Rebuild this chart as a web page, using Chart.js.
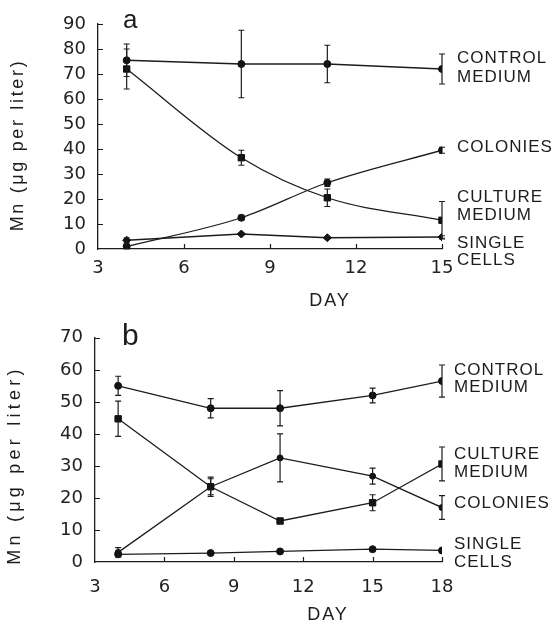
<!DOCTYPE html>
<html>
<head>
<meta charset="utf-8">
<script src="https://cdn.jsdelivr.net/npm/chart.js@4.4.1/dist/chart.umd.min.js"></script>
<style>
  html, body { margin: 0; padding: 0; background: #fff; }
  body { width: 553px; height: 625px; position: relative; overflow: hidden; }
  canvas { position: absolute; left: 0; }
  #panelA { top: 0; }
  #panelB { top: 315px; }
</style>
</head>
<body>
<canvas id="panelA" width="553" height="315"></canvas>
<canvas id="panelB" width="553" height="310"></canvas>
<script>
// Panel a: Mn (ug per liter) by day
const daysA = [4, 8, 11, 15];
const controlA = [75.5, 74, 74, 72];
const controlErrA = [6.5, 13.5, 7.5, 6];
const cultureA = [72, 36.5, 20.5, 11.5];
const cultureErrA = [8, 3, 3.5, 7.5];
const coloniesA = [1, 12.5, 26.5, 39.5];
const coloniesErrA = [1, 1, 1.5, 1.2];
const singleA = [3.5, 6, 4.5, 4.8];
const singleErrA = [1, 0.5, 0.5, 0.5];
const xTicksA = [3, 6, 9, 12, 15];
const yTicksA = [0, 10, 20, 30, 40, 50, 60, 70, 80, 90];

// Panel b
const daysB = [4, 8, 11, 15, 18];
const controlB = [55, 48, 48, 52, 56.5];
const controlErrB = [3, 3, 5.5, 2.3, 5];
const cultureB = [44.7, 23.5, 12.8, 18.5, 30.6];
const cultureErrB = [5.5, 3, 0.8, 2.5, 5.3];
const coloniesB = [3, 23.5, 32.5, 26.8, 17];
const coloniesErrB = [1.5, 2.5, 7.5, 2.5, 3.7];
const singleB = [2.4, 2.8, 3.3, 4, 3.6];
const singleErrB = [0, 0, 0, 0, 0];
const xTicksB = [3, 6, 9, 12, 15, 18];
const yTicksB = [0, 10, 20, 30, 40, 50, 60, 70];

const INK = '#1c1c1c';

function pts(days, vals) {
    return days.map((d, i) => ({ x: d, y: vals[i] }));
}

// error bars, inward ticks and the text around each panel
const panelPlugin = {
    id: 'panel',
    afterDatasetsDraw(chart, args, o) {
        const ctx = chart.ctx;
        const x = chart.scales.x, y = chart.scales.y;
        const a = chart.chartArea;
        ctx.save();
        ctx.strokeStyle = INK;
        ctx.lineWidth = 1.2;
        chart.data.datasets.forEach((ds, i) => {
            const errs = o.errors[i];
            ds.data.forEach((p, j) => {
                const e = errs[j];
                if (!e) return;
                const px = x.getPixelForValue(p.x);
                const t = y.getPixelForValue(p.y + e), b = y.getPixelForValue(p.y - e);
                ctx.beginPath();
                ctx.moveTo(px, t); ctx.lineTo(px, b);
                ctx.moveTo(px - 3, t); ctx.lineTo(px + 3, t);
                ctx.moveTo(px - 3, b); ctx.lineTo(px + 3, b);
                ctx.stroke();
            });
        });

        ctx.beginPath();
        y.ticks.forEach(t => {
            if (t.value === y.min) return;
            const py = Math.round(y.getPixelForValue(t.value)) + 0.5;
            ctx.moveTo(a.left, py); ctx.lineTo(a.left + 5, py);
        });
        x.ticks.forEach(t => {
            if (t.value === x.min) return;
            const px = Math.round(x.getPixelForValue(t.value)) + 0.5;
            ctx.moveTo(px, a.bottom); ctx.lineTo(px, a.bottom - 5);
        });
        ctx.stroke();

        ctx.fillStyle = INK;
        ctx.textBaseline = 'middle';
        ctx.textAlign = 'left';
        ctx.font = '17px "Liberation Sans"';
        ctx.letterSpacing = '1px';
        o.labels.forEach(l => ctx.fillText(l.text, l.x, l.y));

        ctx.font = '18px "Liberation Sans"';
        ctx.letterSpacing = '2px';
        ctx.textAlign = 'center';
        ctx.fillText('DAY', o.day.x, o.day.y);

        ctx.letterSpacing = '0px';
        ctx.textAlign = 'left';
        ctx.textBaseline = 'alphabetic';
        ctx.font = o.letter.size + 'px "Liberation Sans"';
        ctx.fillText(o.letter.text, o.letter.x, o.letter.y);

        // rotated y title stretched to the width seen in the figure
        const title = 'Mn (\u03bcg per liter)';
        ctx.font = '18px "Liberation Sans"';
        const w = ctx.measureText(title).width;
        ctx.letterSpacing = ((o.yTitle.w - w) / (title.length - 1)).toFixed(2) + 'px';
        ctx.translate(o.yTitle.x, o.yTitle.y);
        ctx.rotate(-Math.PI / 2);
        ctx.textAlign = 'center';
        ctx.textBaseline = 'middle';
        ctx.fillText(title, 0, 0);
        ctx.restore();
    }
};

function series(label, data, style, radius, smooth) {
    return {
        label: label,
        data: data,
        borderColor: INK,
        borderWidth: 1.3,
        pointStyle: style,
        pointRadius: radius,
        pointBackgroundColor: '#111',
        pointBorderColor: '#111',
        pointBorderWidth: 1,
        cubicInterpolationMode: smooth ? 'monotone' : 'default',
        tension: 0,
        fill: false
    };
}

function makePanel(id, p) {
    const ctx = document.getElementById(id).getContext('2d');
    return new Chart(ctx, {
        type: 'line',
        data: { datasets: p.datasets },
        options: {
            responsive: false,
            animation: false,
            devicePixelRatio: 1,
            layout: { padding: { top: p.top, right: p.right, left: 0, bottom: 0 } },
            plugins: {
                legend: { display: false },
                tooltip: { enabled: false },
                panel: p.panel
            },
            scales: {
                x: {
                    type: 'linear',
                    min: p.xTicks[0],
                    max: p.xTicks[p.xTicks.length - 1],
                    afterBuildTicks: s => { s.ticks = p.xTicks.map(v => ({ value: v })); },
                    afterFit: s => { s.height = p.bottom; },
                    grid: { display: false, drawTicks: false },
                    border: { color: INK, width: 1.3 },
                    ticks: {
                        color: '#222',
                        padding: p.xPad,
                        maxRotation: 0,
                        font: { family: 'DejaVu Sans', size: 18 }
                    }
                },
                y: {
                    min: p.yTicks[0],
                    max: p.yTicks[p.yTicks.length - 1],
                    afterBuildTicks: s => { s.ticks = p.yTicks.map(v => ({ value: v })); },
                    afterFit: s => { s.width = p.left; },
                    grid: { display: false, drawTicks: false },
                    border: { color: INK, width: 1.3 },
                    ticks: {
                        color: '#222',
                        padding: 12,
                        font: { family: 'DejaVu Sans', size: 18 }
                    }
                }
            }
        },
        plugins: [panelPlugin]
    });
}

makePanel('panelA', {
    top: 24, right: 111, left: 98, bottom: 66, xPad: 9,
    xTicks: xTicksA, yTicks: yTicksA,
    datasets: [
        series('Control medium', pts(daysA, controlA), 'circle', 3.5, false),
        series('Culture medium', pts(daysA, cultureA), 'rect', 4.5, true),
        series('Colonies', pts(daysA, coloniesA), 'circle', 3.5, true),
        series('Single cells', pts(daysA, singleA), 'rectRot', 4, false)
    ],
    panel: {
        errors: [controlErrA, cultureErrA, coloniesErrA, singleErrA],
        labels: [
            { text: 'CONTROL', x: 457, y: 58 },
            { text: 'MEDIUM', x: 457, y: 77 },
            { text: 'COLONIES', x: 457, y: 147 },
            { text: 'CULTURE', x: 457, y: 197 },
            { text: 'MEDIUM', x: 457, y: 215 },
            { text: 'SINGLE', x: 457, y: 243 },
            { text: 'CELLS', x: 457, y: 260 }
        ],
        day: { x: 330, y: 301 },
        letter: { text: 'a', x: 123, y: 28, size: 26 },
        yTitle: { x: 18, y: 145, w: 170 }
    }
});

makePanel('panelB', {
    top: 19, right: 111, left: 95, bottom: 63, xPad: 15,
    xTicks: xTicksB, yTicks: yTicksB,
    datasets: [
        series('Control medium', pts(daysB, controlB), 'circle', 3.5, false),
        series('Culture medium', pts(daysB, cultureB), 'rect', 4.5, false),
        series('Colonies', pts(daysB, coloniesB), 'circle', 3, false),
        series('Single cells', pts(daysB, singleB), 'circle', 3.5, false)
    ],
    panel: {
        errors: [controlErrB, cultureErrB, coloniesErrB, singleErrB],
        labels: [
            { text: 'CONTROL', x: 454, y: 55 },
            { text: 'MEDIUM', x: 454, y: 72 },
            { text: 'CULTURE', x: 454, y: 139 },
            { text: 'MEDIUM', x: 454, y: 157 },
            { text: 'COLONIES', x: 454, y: 188 },
            { text: 'SINGLE', x: 454, y: 229 },
            { text: 'CELLS', x: 454, y: 247 }
        ],
        day: { x: 328, y: 300 },
        letter: { text: 'b', x: 122, y: 30, size: 30 },
        yTitle: { x: 15, y: 150, w: 195 }
    }
});
</script>
</body>
</html>
